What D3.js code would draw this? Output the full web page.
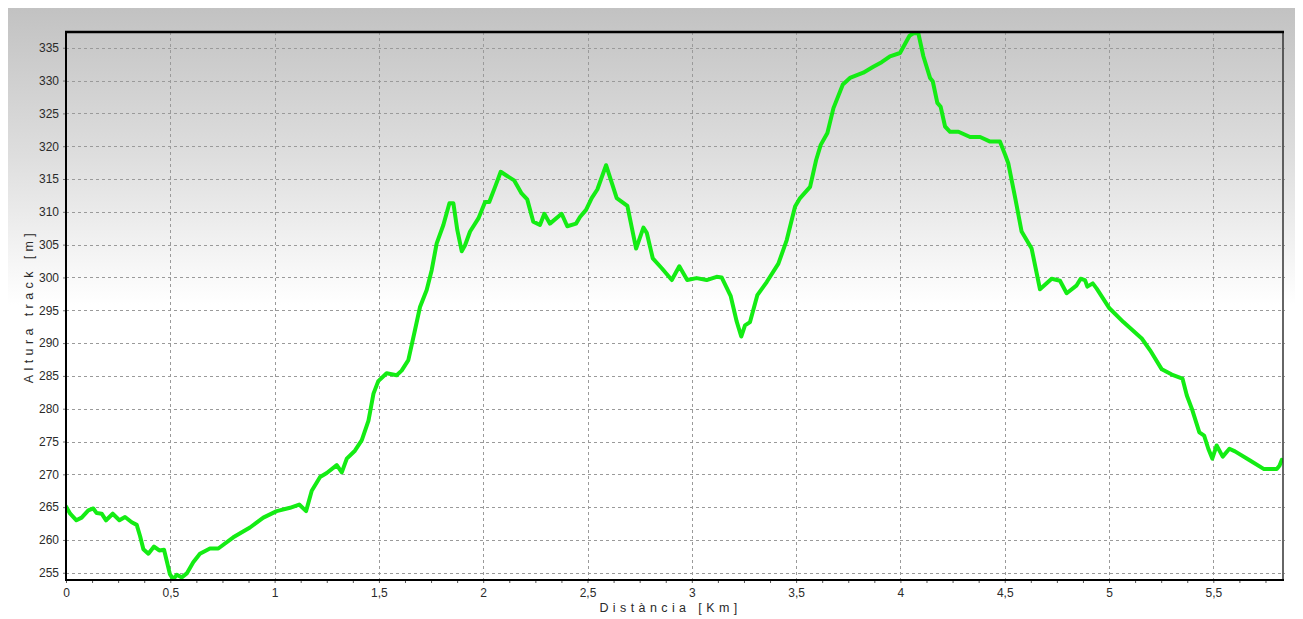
<!DOCTYPE html>
<html>
<head>
<meta charset="utf-8">
<script src="https://cdn.jsdelivr.net/npm/d3@7"></script>
<style>
  html, body { margin: 0; padding: 0; background: #fff; }
  svg { display: block; }
  text { font-family: "Liberation Sans", Arial, sans-serif; }
</style>
</head>
<body>
<svg id="chart" width="1303" height="619"></svg>
<script>
// ---- Data ----
const distKm = [
  0.000, 0.020, 0.050, 0.075, 0.107, 0.131, 0.147, 0.171, 0.192, 0.224,
  0.256, 0.283, 0.315, 0.339, 0.355, 0.371, 0.395, 0.422, 0.447, 0.470,
  0.483, 0.498, 0.514, 0.531, 0.555, 0.579, 0.610, 0.642, 0.690, 0.730,
  0.802, 0.882, 0.946, 1.010, 1.074, 1.118, 1.151, 1.178, 1.218, 1.250,
  1.298, 1.322, 1.346, 1.385, 1.418, 1.450, 1.474, 1.497, 1.537, 1.585,
  1.609, 1.641, 1.673, 1.697, 1.729, 1.753, 1.777, 1.809, 1.838, 1.857,
  1.876, 1.897, 1.913, 1.937, 1.977, 2.009, 2.029, 2.057, 2.084, 2.113,
  2.148, 2.184, 2.211, 2.240, 2.272, 2.293, 2.320, 2.376, 2.403, 2.445,
  2.464, 2.493, 2.520, 2.547, 2.589, 2.640, 2.691, 2.733, 2.768, 2.784,
  2.813, 2.856, 2.904, 2.940, 2.978, 3.023, 3.071, 3.119, 3.143, 3.186,
  3.215, 3.237, 3.255, 3.279, 3.314, 3.359, 3.415, 3.455, 3.495, 3.519,
  3.567, 3.596, 3.618, 3.650, 3.679, 3.724, 3.758, 3.822, 3.870, 3.910,
  3.950, 3.998, 4.043, 4.062, 4.086, 4.110, 4.142, 4.155, 4.177, 4.193,
  4.214, 4.238, 4.278, 4.334, 4.382, 4.430, 4.477, 4.502, 4.517, 4.549,
  4.581, 4.629, 4.669, 4.725, 4.765, 4.797, 4.845, 4.864, 4.885, 4.896,
  4.922, 4.941, 5.002, 5.069, 5.157, 5.197, 5.253, 5.301, 5.352, 5.373,
  5.397, 5.433, 5.456, 5.476, 5.495, 5.516, 5.545, 5.577, 5.604, 5.676,
  5.743, 5.804, 5.817, 5.828
];
const altitudeM = [
  265.1, 264.0, 263.0, 263.4, 264.5, 264.8, 264.1, 264.0, 263.0, 264.0,
  263.0, 263.5, 262.7, 262.3, 260.6, 258.6, 257.9, 259.0, 258.4, 258.5,
  256.8, 254.8, 254.0, 254.7, 254.3, 254.9, 256.6, 257.9, 258.7, 258.7,
  260.4, 261.9, 263.4, 264.4, 264.9, 265.4, 264.4, 267.5, 269.6, 270.2,
  271.4, 270.3, 272.4, 273.6, 275.2, 278.2, 282.3, 284.2, 285.4, 285.1,
  285.8, 287.4, 292.0, 295.5, 298.1, 301.1, 305.2, 308.0, 311.3, 311.3,
  307.2, 304.0, 304.9, 307.0, 309.0, 311.5, 311.5, 313.8, 316.1, 315.5,
  314.8, 312.8, 311.9, 308.5, 308.0, 309.7, 308.2, 309.7, 307.8, 308.2,
  309.2, 310.3, 312.1, 313.4, 317.1, 312.1, 310.9, 304.4, 307.6, 306.8,
  302.9, 301.4, 299.6, 301.7, 299.6, 299.9, 299.6, 300.1, 300.0, 297.2,
  293.3, 291.0, 292.7, 293.2, 297.3, 299.3, 302.1, 305.7, 310.8, 312.1,
  313.8, 317.9, 320.2, 322.0, 325.8, 329.4, 330.4, 331.2, 332.1, 332.8,
  333.7, 334.2, 336.8, 337.2, 337.2, 333.7, 330.4, 329.9, 326.6, 326.0,
  323.0, 322.2, 322.2, 321.4, 321.4, 320.7, 320.7, 318.7, 317.4, 312.3,
  307.0, 304.4, 298.2, 299.8, 299.5, 297.6, 298.8, 299.8, 299.6, 298.6,
  299.1, 298.3, 295.3, 293.2, 290.7, 288.9, 286.0, 285.2, 284.6, 282.0,
  280.0, 276.4, 275.9, 273.9, 272.4, 274.4, 272.7, 273.9, 273.5, 272.1,
  270.8, 270.8, 271.3, 272.2
];
const yTickValues = [255, 260, 265, 270, 275, 280, 285, 290, 295, 300, 305, 310, 315, 320, 325, 330, 335];
const xTickValues = [0, 0.5, 1, 1.5, 2, 2.5, 3, 3.5, 4, 4.5, 5, 5.5];
const xLabel = "Distància [Km]";
const yLabel = "Altura track [m]";

// ---- Layout ----
const W = 1303, H = 619;
const plot = { left: 66, right: 1283, top: 32, bottom: 580 };
const svg = d3.select("#chart");

const x = d3.scaleLinear().domain([0, 5.834]).range([plot.left, plot.right]);
const y = d3.scaleLinear().domain([253.9, 337.4]).range([plot.bottom, plot.top]);

// background gradient panel
const defs = svg.append("defs");
const grad = defs.append("linearGradient").attr("id", "bg")
  .attr("gradientUnits", "userSpaceOnUse")
  .attr("x1", 0).attr("y1", 8).attr("x2", 0).attr("y2", 305);
grad.append("stop").attr("offset", 0).attr("stop-color", "#c2c2c2");
grad.append("stop").attr("offset", 0.5).attr("stop-color", "#dedede");
grad.append("stop").attr("offset", 1).attr("stop-color", "#ffffff");

svg.append("rect").attr("x", 8).attr("y", 8).attr("width", 1295 - 8).attr("height", H - 8)
  .attr("fill", "url(#bg)");

defs.append("clipPath").attr("id", "clip").append("rect")
  .attr("x", plot.left).attr("y", plot.top)
  .attr("width", plot.right - plot.left).attr("height", plot.bottom - plot.top);

// grid
const grid = svg.append("g").attr("stroke", "#9a9a9a").attr("stroke-width", 1)
  .attr("stroke-dasharray", "3,3").attr("fill", "none");
grid.selectAll("line.h").data(yTickValues).join("line").attr("class", "h")
  .attr("x1", plot.left).attr("x2", plot.right + 2)
  .attr("y1", d => Math.round(y(d)) + 0.5).attr("y2", d => Math.round(y(d)) + 0.5);
grid.selectAll("line.v").data(xTickValues.filter(d => d > 0)).join("line").attr("class", "v")
  .attr("y1", plot.top).attr("y2", plot.bottom)
  .attr("x1", d => Math.round(x(d)) + 0.5).attr("x2", d => Math.round(x(d)) + 0.5);

// line
const data = distKm.map((d, i) => [d, altitudeM[i]]);
svg.append("path").datum(data)
  .attr("clip-path", "url(#clip)")
  .attr("fill", "none")
  .attr("stroke", "#14ec14")
  .attr("stroke-width", 4)
  .attr("stroke-linejoin", "round")
  .attr("stroke-linecap", "round")
  .attr("d", d3.line().x(d => x(d[0])).y(d => y(d[1])));

// axes
const fmt = d => String(d).replace(".", ",");
const yAxis = svg.append("g").attr("transform", `translate(${plot.left},0)`)
  .call(d3.axisLeft(y).tickValues(yTickValues).tickSize(3).tickPadding(4).tickFormat(d3.format("d")));
yAxis.select(".domain").remove();
yAxis.selectAll(".tick line").attr("stroke", "#777");
yAxis.selectAll(".tick text").attr("fill", "#2a2a2a").style("font-size", "12px");

const minorX = d3.range(0, 5.834, 0.125);
const xMinor = svg.append("g").attr("transform", `translate(0,${plot.bottom})`)
  .call(d3.axisBottom(x).tickValues(minorX).tickSize(3).tickFormat(""));
xMinor.select(".domain").remove();
xMinor.selectAll(".tick line").attr("stroke", "#555");

const xAxis = svg.append("g").attr("transform", `translate(0,${plot.bottom})`)
  .call(d3.axisBottom(x).tickValues(xTickValues).tickSize(0).tickPadding(8).tickFormat(fmt));
xAxis.select(".domain").remove();
xAxis.selectAll(".tick text").attr("fill", "#2a2a2a").style("font-size", "12px");

// frame
svg.append("line").attr("x1", plot.right).attr("x2", plot.right).attr("y1", plot.top).attr("y2", plot.bottom)
  .attr("stroke", "#333").attr("stroke-width", 1.5);
svg.append("line").attr("x1", plot.left - 1).attr("x2", plot.right + 1).attr("y1", plot.top).attr("y2", plot.top)
  .attr("stroke", "#000").attr("stroke-width", 2.5);
svg.append("line").attr("x1", plot.left - 1).attr("x2", plot.right + 1).attr("y1", plot.bottom).attr("y2", plot.bottom)
  .attr("stroke", "#000").attr("stroke-width", 2);
svg.append("line").attr("x1", plot.left).attr("x2", plot.left).attr("y1", plot.top - 1).attr("y2", plot.bottom + 1)
  .attr("stroke", "#000").attr("stroke-width", 2);

// axis titles
svg.append("text").attr("x", (plot.left + plot.right) / 2 - 4).attr("y", 612)
  .attr("text-anchor", "middle").attr("fill", "#2a2a2a")
  .style("font-size", "12.5px").style("letter-spacing", "4.4px")
  .text(xLabel);
svg.append("text")
  .attr("transform", `translate(33,${(plot.top + plot.bottom) / 2}) rotate(-90)`)
  .attr("text-anchor", "middle").attr("fill", "#2a2a2a")
  .style("font-size", "12.5px").style("letter-spacing", "4.4px")
  .text(yLabel);
</script>
</body>
</html>
